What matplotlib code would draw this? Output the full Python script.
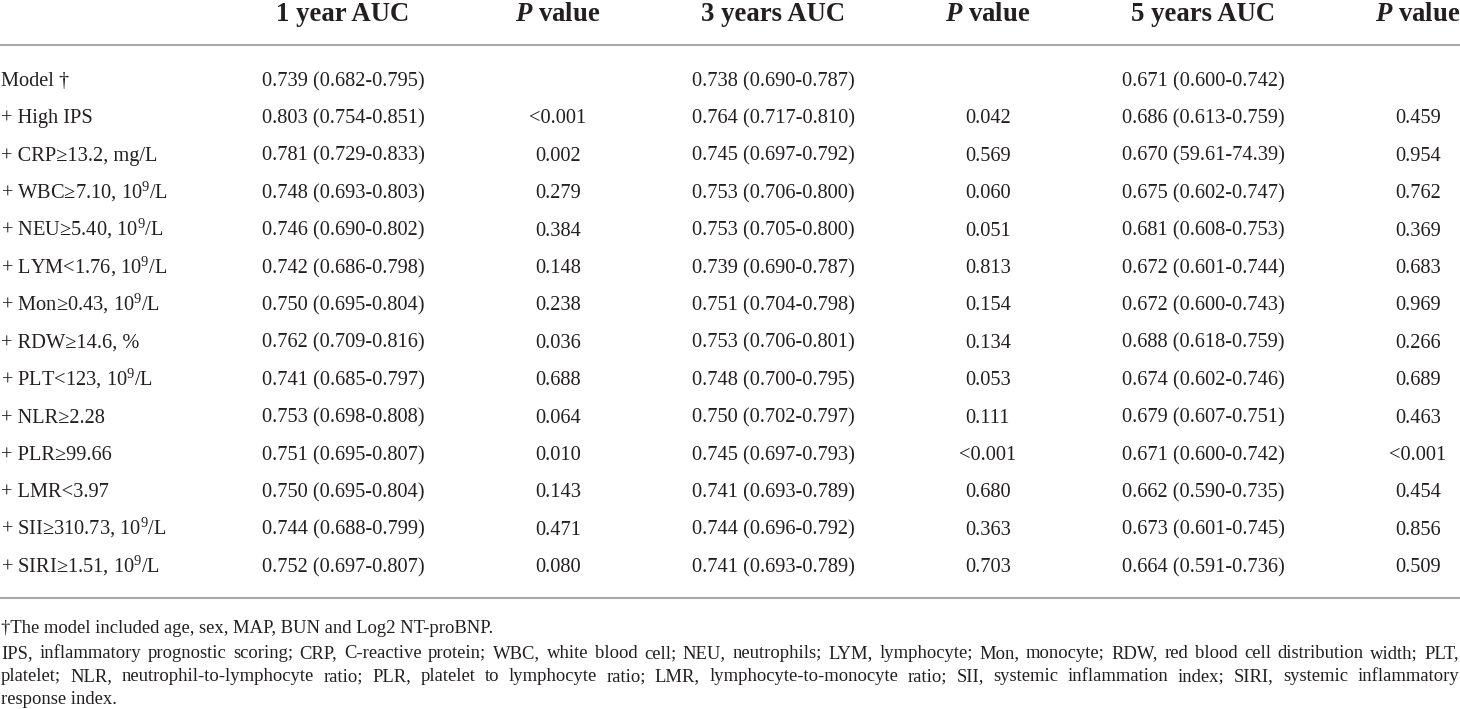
import matplotlib
matplotlib.use("Agg")
import matplotlib.pyplot as plt

plt.rcParams["font.family"] = ["Liberation Serif", "DejaVu Serif"]
plt.rcParams["mathtext.fontset"] = "custom"
plt.rcParams["mathtext.rm"] = "Liberation Serif"
plt.rcParams["mathtext.it"] = "Liberation Serif:italic:bold"

headers = ["1 year AUC", r"$\mathit{P}$ value", "3 years AUC", r"$\mathit{P}$ value",
           "5 years AUC", r"$\mathit{P}$ value"]

labels = ["Model \u2020", "+ High IPS", "+ CRP\u226513.2, mg/L", "+ WBC\u22657.10, 10$^{9}$/L",
          "+ NEU\u22655.40, 10$^{9}$/L", "+ LYM<1.76, 10$^{9}$/L", "+ Mon\u22650.43, 10$^{9}$/L",
          "+ RDW\u226514.6, %", "+ PLT<123, 10$^{9}$/L", "+ NLR\u22652.28", "+ PLR\u226599.66",
          "+ LMR<3.97", "+ SII\u2265310.73, 10$^{9}$/L", "+ SIRI\u22651.51, 10$^{9}$/L"]

auc_1y = ["0.739 (0.682-0.795)", "0.803 (0.754-0.851)", "0.781 (0.729-0.833)", "0.748 (0.693-0.803)",
          "0.746 (0.690-0.802)", "0.742 (0.686-0.798)", "0.750 (0.695-0.804)", "0.762 (0.709-0.816)",
          "0.741 (0.685-0.797)", "0.753 (0.698-0.808)", "0.751 (0.695-0.807)", "0.750 (0.695-0.804)",
          "0.744 (0.688-0.799)", "0.752 (0.697-0.807)"]
p_1y = ["", "<0.001", "0.002", "0.279", "0.384", "0.148", "0.238", "0.036", "0.688", "0.064",
        "0.010", "0.143", "0.471", "0.080"]

auc_3y = ["0.738 (0.690-0.787)", "0.764 (0.717-0.810)", "0.745 (0.697-0.792)", "0.753 (0.706-0.800)",
          "0.753 (0.705-0.800)", "0.739 (0.690-0.787)", "0.751 (0.704-0.798)", "0.753 (0.706-0.801)",
          "0.748 (0.700-0.795)", "0.750 (0.702-0.797)", "0.745 (0.697-0.793)", "0.741 (0.693-0.789)",
          "0.744 (0.696-0.792)", "0.741 (0.693-0.789)"]
p_3y = ["", "0.042", "0.569", "0.060", "0.051", "0.813", "0.154", "0.134", "0.053", "0.111",
        "<0.001", "0.680", "0.363", "0.703"]

auc_5y = ["0.671 (0.600-0.742)", "0.686 (0.613-0.759)", "0.670 (59.61-74.39)", "0.675 (0.602-0.747)",
          "0.681 (0.608-0.753)", "0.672 (0.601-0.744)", "0.672 (0.600-0.743)", "0.688 (0.618-0.759)",
          "0.674 (0.602-0.746)", "0.679 (0.607-0.751)", "0.671 (0.600-0.742)", "0.662 (0.590-0.735)",
          "0.673 (0.601-0.745)", "0.664 (0.591-0.736)"]
p_5y = ["", "0.459", "0.954", "0.762", "0.369", "0.683", "0.969", "0.266", "0.689", "0.463",
        "<0.001", "0.454", "0.856", "0.509"]

footnotes = [
    "\u2020The model included age, sex, MAP, BUN and Log2 NT-proBNP.",
    "IPS, inflammatory prognostic scoring; CRP, C-reactive protein; WBC, white blood cell; NEU, neutrophils; "
    "LYM, lymphocyte; Mon, monocyte; RDW, red blood cell distribution width; PLT,",
    "platelet; NLR, neutrophil-to-lymphocyte ratio; PLR, platelet to lymphocyte ratio; LMR, lymphocyte-to-monocyte "
    "ratio; SII, systemic inflammation index; SIRI, systemic inflammatory",
    "response index.",
]
justify = [False, True, True, False]

W, H = 1460, 709
fig = plt.figure(figsize=(W / 100, H / 100), dpi=100)
ax = fig.add_axes([0, 0, 1, 1])
ax.set_xlim(0, W)
ax.set_ylim(H, 0)
ax.axis("off")

col_x = [343, 558, 773, 988, 1203, 1418]
columns = [auc_1y, p_1y, auc_3y, p_3y, auc_5y, p_5y]
head_base = 21
row_base0, row_dy = 86, 37.4
fs_body = 14.7
fs_head = 19.3
txt_col = "#231f20"

for x, h in zip(col_x, headers):
    ax.text(x, head_base, h, ha="center", va="baseline", fontsize=fs_head, fontweight="bold", color=txt_col)

ax.plot([0, W], [45, 45], color="#a8a8a8", lw=1.5)
ax.plot([0, W], [598, 598], color="#a8a8a8", lw=1.5)

for i, lab in enumerate(labels):
    y = row_base0 + i * row_dy
    ax.text(1, y, lab, ha="left", va="baseline", fontsize=fs_body, color=txt_col)
    for x, col in zip(col_x, columns):
        ax.text(x, y, col[i], ha="center", va="baseline", fontsize=fs_body, color=txt_col)

# footnotes, justified lines spread words over the full width
fs_foot = 13.4
foot_base = [633, 658, 681, 704]
fig.canvas.draw()
renderer = fig.canvas.get_renderer()
for line, y, jus in zip(footnotes, foot_base, justify):
    if not jus:
        ax.text(1, y, line, ha="left", va="baseline", fontsize=fs_foot, color=txt_col)
        continue
    words = line.split(" ")
    widths = []
    for w in words:
        t = ax.text(0, y, w, fontsize=fs_foot)
        widths.append(t.get_window_extent(renderer).width)
        t.remove()
    gap = (W - 2 - sum(widths)) / (len(words) - 1)
    x = 1
    for w, wd in zip(words, widths):
        ax.text(x, y, w, ha="left", va="baseline", fontsize=fs_foot, color=txt_col)
        x += wd + gap

fig.savefig("out.png", dpi=100)
